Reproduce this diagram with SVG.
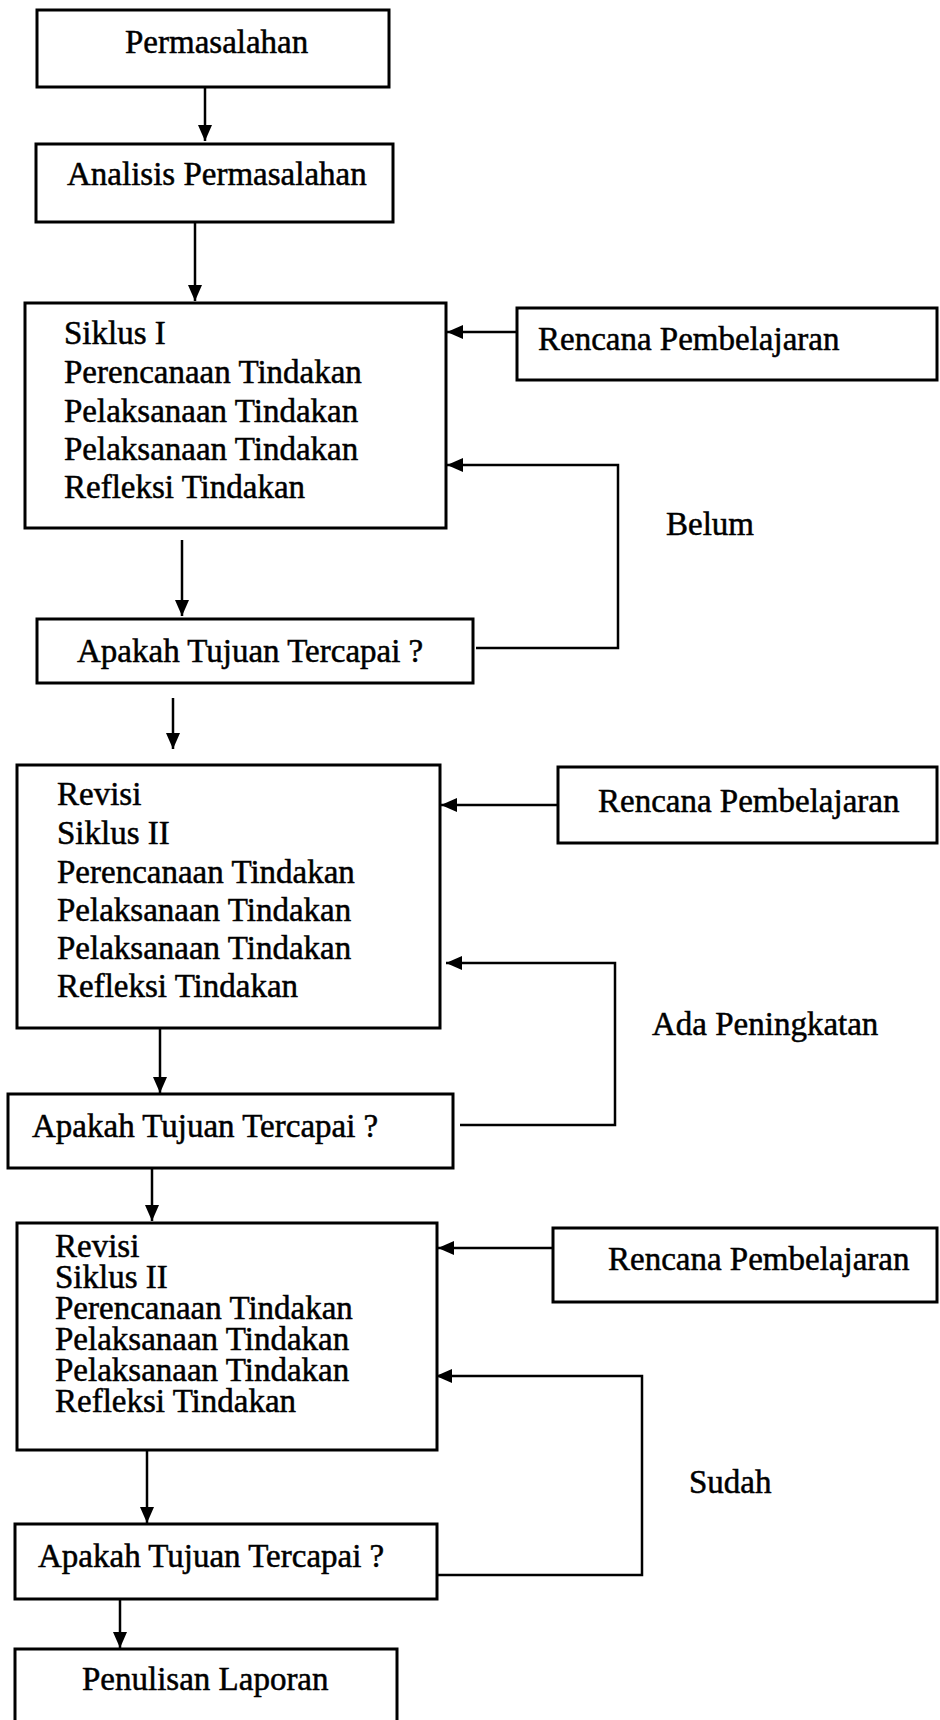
<svg xmlns="http://www.w3.org/2000/svg" width="940" height="1720" viewBox="0 0 940 1720">
<style>
.box{fill:#fff;stroke:#000;stroke-width:3}
.t{font-family:"Liberation Serif","Times New Roman",serif;font-size:33px;fill:#000;stroke:#000;stroke-width:0.5}
.c{fill:none;stroke:#000;stroke-width:2.5}
</style>
<defs>
<marker id="ah" markerUnits="userSpaceOnUse" markerWidth="16" markerHeight="14" refX="16" refY="7" orient="auto">
<path d="M0,0 L16,7 L0,14 Z" fill="#000"/>
</marker>
</defs>
<rect width="940" height="1720" fill="#fff"/>
<g id="connectors">
<line class="c" x1="205" y1="87" x2="205" y2="141" marker-end="url(#ah)"/>
<line class="c" x1="195" y1="222" x2="195" y2="301" marker-end="url(#ah)"/>
<line class="c" x1="517" y1="332" x2="447" y2="332" marker-end="url(#ah)"/>
<polyline class="c" points="476,648 618,648 618,465 447,465" marker-end="url(#ah)"/>
<line class="c" x1="182" y1="540" x2="182" y2="616" marker-end="url(#ah)"/>
<line class="c" x1="173" y1="698" x2="173" y2="749" marker-end="url(#ah)"/>
<line class="c" x1="558" y1="805" x2="441" y2="805" marker-end="url(#ah)"/>
<polyline class="c" points="460,1125 615,1125 615,963 446,963" marker-end="url(#ah)"/>
<line class="c" x1="160" y1="1029" x2="160" y2="1093" marker-end="url(#ah)"/>
<line class="c" x1="152" y1="1168" x2="152" y2="1221" marker-end="url(#ah)"/>
<line class="c" x1="553" y1="1248" x2="438" y2="1248" marker-end="url(#ah)"/>
<polyline class="c" points="437,1575 642,1575 642,1376 436,1376" marker-end="url(#ah)"/>
<line class="c" x1="147" y1="1450" x2="147" y2="1523" marker-end="url(#ah)"/>
<line class="c" x1="120" y1="1599" x2="120" y2="1648" marker-end="url(#ah)"/>
</g>
<g id="permasalahan">
<rect class="box" x="37" y="10" width="352" height="77"/>
<text class="t" x="125" y="53">Permasalahan</text>
</g>
<g id="analisis">
<rect class="box" x="36" y="144" width="357" height="78"/>
<text class="t" x="67" y="185">Analisis Permasalahan</text>
</g>
<g id="siklus1">
<rect class="box" x="25" y="303" width="421" height="225"/>
<text class="t" x="64" y="344">Siklus I</text>
<text class="t" x="64" y="383">Perencanaan Tindakan</text>
<text class="t" x="64" y="422">Pelaksanaan Tindakan</text>
<text class="t" x="64" y="460">Pelaksanaan Tindakan</text>
<text class="t" x="64" y="498">Refleksi Tindakan</text>
</g>
<g id="rencana1">
<rect class="box" x="517" y="308" width="420" height="72"/>
<text class="t" x="538" y="350">Rencana Pembelajaran</text>
</g>
<g id="belum">
<text class="t" x="666" y="535">Belum</text>
</g>
<g id="apakah1">
<rect class="box" x="37" y="619" width="436" height="64"/>
<text class="t" x="77" y="662">Apakah Tujuan Tercapai ?</text>
</g>
<g id="siklus2">
<rect class="box" x="17" y="765" width="423" height="263"/>
<text class="t" x="57" y="805">Revisi</text>
<text class="t" x="57" y="844">Siklus II</text>
<text class="t" x="57" y="883">Perencanaan Tindakan</text>
<text class="t" x="57" y="921">Pelaksanaan Tindakan</text>
<text class="t" x="57" y="959">Pelaksanaan Tindakan</text>
<text class="t" x="57" y="997">Refleksi Tindakan</text>
</g>
<g id="rencana2">
<rect class="box" x="558" y="767" width="379" height="76"/>
<text class="t" x="598" y="812">Rencana Pembelajaran</text>
</g>
<g id="ada">
<text class="t" x="652" y="1035">Ada Peningkatan</text>
</g>
<g id="apakah2">
<rect class="box" x="8" y="1094" width="445" height="74"/>
<text class="t" x="32" y="1137">Apakah Tujuan Tercapai ?</text>
</g>
<g id="siklus3">
<rect class="box" x="17" y="1223" width="420" height="227"/>
<text class="t" x="55" y="1257">Revisi</text>
<text class="t" x="55" y="1288">Siklus II</text>
<text class="t" x="55" y="1319">Perencanaan Tindakan</text>
<text class="t" x="55" y="1350">Pelaksanaan Tindakan</text>
<text class="t" x="55" y="1381">Pelaksanaan Tindakan</text>
<text class="t" x="55" y="1412">Refleksi Tindakan</text>
</g>
<g id="rencana3">
<rect class="box" x="553" y="1228" width="384" height="74"/>
<text class="t" x="608" y="1270">Rencana Pembelajaran</text>
</g>
<g id="sudah">
<text class="t" x="689" y="1493">Sudah</text>
</g>
<g id="apakah3">
<rect class="box" x="15" y="1524" width="422" height="75"/>
<text class="t" x="38" y="1567">Apakah Tujuan Tercapai ?</text>
</g>
<g id="penulisan">
<rect class="box" x="15" y="1649" width="382" height="90"/>
<text class="t" x="82" y="1690">Penulisan Laporan</text>
</g>
</svg>
